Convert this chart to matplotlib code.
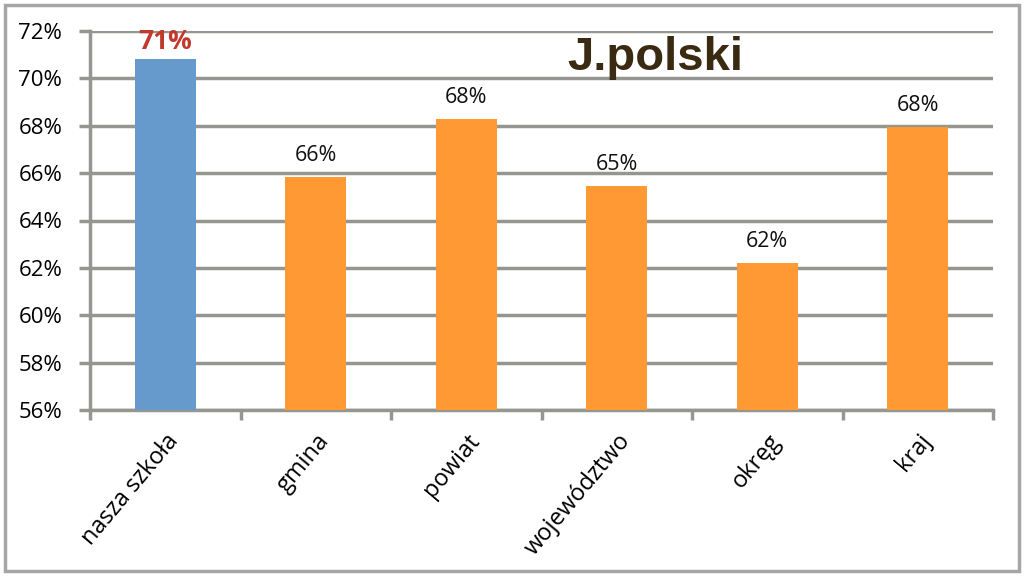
import matplotlib as mpl
mpl.use('Agg')
import matplotlib.pyplot as plt
import matplotlib.ticker as tick
from matplotlib.patches import Rectangle

# dane
kategorie = ['nasza szkoła', 'gmina', 'powiat', 'województwo', 'okręg', 'kraj']
wyniki = [70.8, 65.85, 68.3, 65.45, 62.2, 67.95]
etykiety = ['71%', '66%', '68%', '65%', '62%', '68%']
kolory = ['#6699cc', '#ff9933', '#ff9933', '#ff9933', '#ff9933', '#ff9933']

plt.rcParams['font.family'] = ['Open Sans', 'DejaVu Sans']

fig = plt.figure(figsize=(10.24, 5.76), dpi=100)
ax = fig.add_axes([90/1024, 1-410/576, 903/1024, 379/576])

# ramka wokół wykresu
fig.patches.append(Rectangle((5/1024, 5/576), 1014/1024, 566/576, transform=fig.transFigure,
                             fill=False, edgecolor='#a6a6a6', linewidth=2.5))

x = range(len(kategorie))
ax.bar(x, [w - 56 for w in wyniki], bottom=56, width=0.405, color=kolory, zorder=3)

ax.set_xlim(-0.5, len(kategorie) - 0.5)
ax.set_ylim(56, 72)
ax.yaxis.set_major_locator(tick.MultipleLocator(2))
ax.yaxis.set_major_formatter(tick.FuncFormatter(lambda v, p: '%d%%' % v))
ax.grid(axis='y', color='#969690', linewidth=2.5, zorder=0)

for s in ['top', 'right']:
    ax.spines[s].set_visible(False)
ax.spines['left'].set_color('#969690')
ax.spines['bottom'].set_color('#969690')
ax.spines['left'].set_linewidth(2.5)
ax.spines['bottom'].set_linewidth(2.5)

ax.tick_params(axis='y', labelsize=16, length=8, width=2.5, color='#969690', pad=12)
ax.set_xticks([i + 0.5 for i in range(-1, len(kategorie))])
ax.set_xticklabels([])
ax.tick_params(axis='x', which='major', length=7, width=2.5, color='#969690')
ax.set_xticks(list(x), minor=True)
ax.set_xticklabels(kategorie, minor=True, rotation=50, ha='right', rotation_mode='anchor',
                   fontsize=17)
ax.tick_params(axis='x', which='minor', length=0, pad=14)

for i, (w, e) in enumerate(zip(wyniki, etykiety)):
    if i == 0:
        ax.text(i, w + 0.2, e, ha='center', va='bottom', fontsize=19, fontweight='bold',
                color='#c0392b')
    else:
        ax.text(i, w + 0.45, e, ha='center', va='bottom', fontsize=15.5, color='#111111')

ax.text(0.626, 0.93, 'J.polski', transform=ax.transAxes, ha='center', va='center',
        fontsize=34, fontweight='bold', color='#3a2a12', family='Liberation Sans')

plt.savefig('out.png', dpi=100)
